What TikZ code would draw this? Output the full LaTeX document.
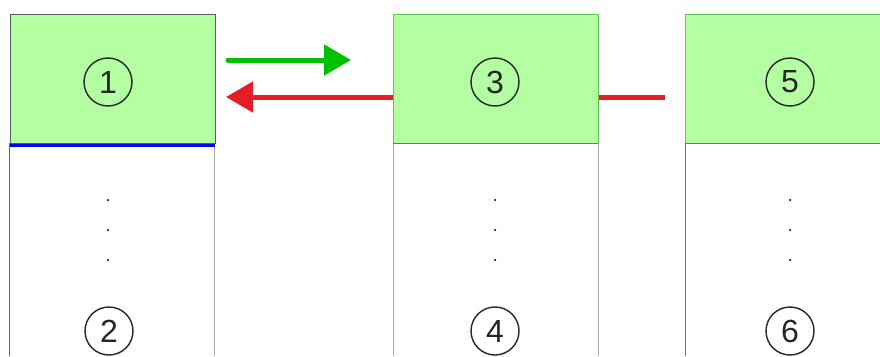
\documentclass[tikz,border=0pt]{standalone}
\usepackage{fontspec}
\setmainfont{Liberation Sans}
\usetikzlibrary{arrows.meta}
\definecolor{boxgreen}{RGB}{179,255,161}
\definecolor{arrgreen}{RGB}{0,192,0}
\definecolor{arrred}{RGB}{228,30,38}
\definecolor{colgray}{RGB}{170,170,170}
\definecolor{edgegreen}{RGB}{90,200,80}
\begin{document}
\begin{tikzpicture}[x=1pt,y=-1pt,
  topbox/.style={draw=#1,line width=1pt,fill=boxgreen,minimum width=205pt,minimum height=129pt,inner sep=0pt,anchor=north west},
  numcirc/.style={circle,draw=black!85,line width=1.4pt,minimum size=48pt,inner sep=0pt,font=\fontsize{32}{32}\selectfont,text=black!85},
  colline/.style={draw=colgray,line width=1pt},
  vdot/.style={circle,fill=black!85,minimum size=2.5pt,inner sep=0pt},
  thickarrow/.style={line width=5pt,-{Triangle[length=27pt,width=30pt]}}]
\useasboundingbox (0,0) rectangle (880,356);
\clip (0,0) rectangle (880,356);
\fill[white] (0,0) rectangle (880,356);
% columns
\draw[colline,draw=black!60] (9.5,143) -- (9.5,356);
\draw[colline] (214,143) -- (214,356);
\draw[colline] (393,143) -- (393,356);
\draw[colline] (598,143) -- (598,356);
\draw[colline,draw=black!55] (685,143) -- (685,356);
% boxes
\node[topbox=black!65] (b1) at (9.5,14) {};
\node[topbox=edgegreen] (b3) at (393,14) {};
\node[topbox=edgegreen,minimum width=230pt] (b5) at (685,14) {};
\draw[black!55,line width=1pt] (393,143) -- (598,143);
\draw[black!55,line width=1pt] (685,143) -- (880,143);
\draw[blue,line width=3pt] (10,145) -- (215,145);
% circled numbers
\node[numcirc] (n1) at (108,82) {1};
\node[numcirc] (n3) at (495,82) {3};
\node[numcirc] (n5) at (790,82) {5};
\node[numcirc] (n2) at (109,331) {2};
\node[numcirc] (n4) at (495,331) {4};
\node[numcirc] (n6) at (790,331) {6};
% dots
\foreach \cx/\nm in {108/a,495/b,790/c}{
  \foreach \cy/\k in {200/1,230/2,260/3}{
    \node[vdot] (d\nm\k) at (\cx,\cy) {};
  }
}
% arrows
\coordinate (gs) at (228,60);
\coordinate (ge) at (351,60);
\draw[thickarrow,arrgreen,line cap=round] (gs) -- (ge);
\coordinate (re) at (226,97);
\draw[thickarrow,arrred] (b3.west |- 0,97) -- (re);
\coordinate (rl) at (665,97);
\draw[arrred,line width=5pt] (b3.east |- 0,97) -- (rl);
\end{tikzpicture}
\end{document}
